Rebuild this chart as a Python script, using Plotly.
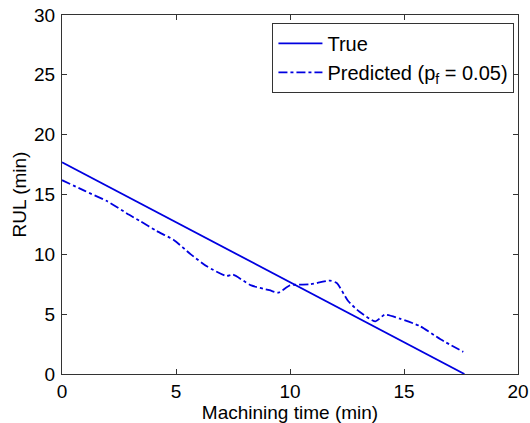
import plotly.graph_objects as go

# Data
true_t = [0, 17.65]
true_rul = [17.7, 0]

pred_t = [0, 1.0, 1.97, 2.95, 3.45, 4.15, 4.9, 5.65, 6.35, 7.2, 7.5, 8.3, 9.1, 9.5, 10.0,
          10.9, 11.75, 12.05, 12.55, 13.05, 13.75, 14.15, 14.85, 15.7, 16.6, 17.6]
pred_rul = [16.2, 15.3, 14.45, 13.3, 12.75, 11.95, 11.2, 10.0, 9.0, 8.2, 8.3, 7.4, 7.0, 6.8, 7.4,
            7.5, 7.8, 7.6, 6.1, 5.2, 4.4, 4.95, 4.6, 4.0, 2.9, 1.85]

x_ticks = [0, 5, 10, 15, 20]
y_ticks = [0, 5, 10, 15, 20, 25, 30]

FONT = "Liberation Sans, Arial, sans-serif"
BLUE = "#0000e0"

fig = go.Figure()
fig.add_trace(go.Scatter(x=true_t, y=true_rul, mode="lines", name="True",
                         line=dict(color=BLUE, width=1.8)))
fig.add_trace(go.Scatter(x=pred_t, y=pred_rul, mode="lines",
                         name="Predicted (p<sub>f</sub> = 0.05)",
                         line=dict(color=BLUE, width=1.8, dash="dashdot", shape="spline",
                                   smoothing=0.6)))

axis_common = dict(showgrid=False, zeroline=False, showline=True, linecolor="#333333",
                   linewidth=1, mirror="allticks", ticks="inside", ticklen=5,
                   tickcolor="#333333", automargin=False,
                   tickfont=dict(family=FONT, size=19, color="black"))

fig.update_xaxes(range=[0, 20], tickvals=x_ticks, **axis_common,
                 title=dict(text="Machining time (min)", font=dict(family=FONT, size=19, color="black"),
                            standoff=2))
fig.update_yaxes(range=[0, 30], tickvals=y_ticks, ticklabelstandoff=2, **axis_common,
                 title=dict(text="RUL (min)", font=dict(family=FONT, size=19, color="black"),
                            standoff=2))

fig.update_layout(
    width=530, height=423,
    margin=dict(l=62, r=12, t=15, b=49),
    paper_bgcolor="white", plot_bgcolor="white",
    showlegend=True,
    legend=dict(x=0.4615, y=0.978, xanchor="left", yanchor="top",
                bgcolor="white", bordercolor="#333333", borderwidth=1,
                font=dict(family=FONT, size=20, color="black"),
                tracegroupgap=0, itemwidth=44),
)

fig.write_html("out.html")
